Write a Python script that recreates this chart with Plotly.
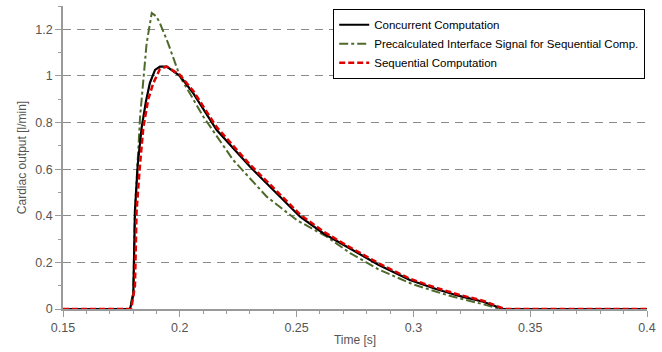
import plotly.graph_objects as go

# Concurrent computation (black solid)
conc_t = [0.15, 0.1787, 0.1801, 0.1808, 0.1820, 0.1837, 0.1855, 0.1872, 0.1894, 0.1915, 0.1944,
          0.2000, 0.2058, 0.2158, 0.2300, 0.2443, 0.2515, 0.2614, 0.2714, 0.2850, 0.2985,
          0.3100, 0.3200, 0.3299, 0.3384, 0.4]
conc_y = [0.0, 0.0, 0.06, 0.42, 0.62, 0.78, 0.89, 0.97, 1.026, 1.04, 1.04,
          1.0, 0.925, 0.768, 0.611, 0.468, 0.396, 0.325, 0.267, 0.19, 0.124,
          0.085, 0.055, 0.031, 0.0, 0.0]

# Precalculated interface signal (green dash-dot)
pre_t = [0.15, 0.1787, 0.1801, 0.1808, 0.1830, 0.1858, 0.1880, 0.1900, 0.1915, 0.1950,
         0.2001, 0.2101, 0.2228, 0.2372, 0.2500, 0.2629, 0.2729, 0.2850, 0.3000,
         0.3150, 0.3300, 0.3375, 0.4]
pre_y = [0.0, 0.0, 0.08, 0.42, 0.825, 1.14, 1.27, 1.255, 1.226, 1.14,
         0.997, 0.825, 0.64, 0.482, 0.382, 0.31, 0.24, 0.17, 0.105,
         0.058, 0.02, 0.0, 0.0]

# Sequential computation (red dashed)
seq_t = [0.15, 0.1792, 0.1808, 0.1815, 0.1828, 0.1844, 0.1865, 0.1887, 0.1915, 0.1944,
         0.2000, 0.2058, 0.2158, 0.2300, 0.2443, 0.2515, 0.2614, 0.2714, 0.2850, 0.2985,
         0.3100, 0.3200, 0.3300, 0.3390, 0.4]
seq_y = [0.0, 0.0, 0.10, 0.42, 0.60, 0.78, 0.90, 0.97, 1.03, 1.04,
         1.005, 0.935, 0.78, 0.62, 0.478, 0.405, 0.333, 0.273, 0.197, 0.13,
         0.09, 0.06, 0.035, 0.0, 0.0]

y_ticks = [0, 0.2, 0.4, 0.6, 0.8, 1.0, 1.2]
y_labels = ["0", "0.2", "0.4", "0.6", "0.8", "1", "1.2"]
x_ticks = [0.15, 0.2, 0.25, 0.3, 0.35, 0.4]
x_labels = ["0.15", "0.2", "0.25", "0.3", "0.35", "0.4"]

fig = go.Figure()
fig.add_trace(go.Scatter(x=pre_t, y=pre_y, mode="lines", name="Precalculated Interface Signal for Sequential Comp.",
                         line=dict(color="#4f6a2b", width=2, dash="dashdot"), legendrank=2))
fig.add_trace(go.Scatter(x=conc_t, y=conc_y, mode="lines", name="Concurrent Computation",
                         line=dict(color="black", width=2.2), legendrank=1))
fig.add_trace(go.Scatter(x=seq_t, y=seq_y, mode="lines", name="Sequential Computation",
                         line=dict(color="#e00000", width=2.5, dash="6px,3px"), legendrank=3))

axis_col = "#9a9a9a"
fig.update_layout(
    width=662, height=352,
    margin=dict(l=63, r=15, t=6, b=43),
    paper_bgcolor="white", plot_bgcolor="white",
    font=dict(family="Liberation Sans, Arial, sans-serif", size=12, color="#555555"),
    showlegend=True,
    legend=dict(x=0.9966, y=0.99, xanchor="right", yanchor="top",
                bgcolor="white", bordercolor="black", borderwidth=1.2,
                font=dict(size=11.5, color="black"), itemwidth=30,
                tracegroupgap=0),
    xaxis=dict(range=[0.15, 0.4], tickvals=x_ticks, ticktext=x_labels,
               showline=True, linecolor=axis_col, linewidth=1.5,
               ticks="outside", ticklen=6, tickcolor=axis_col, tickwidth=1,
               showgrid=False, zeroline=False,
               minor=dict(dtick=0.01, ticks="outside", ticklen=3, tickcolor=axis_col, showgrid=False),
               tickfont=dict(size=12.5, color="#555555"),
               title=dict(text="Time [s]", font=dict(size=12, color="#555555"), standoff=2)),
    yaxis=dict(range=[0, 1.3], tickvals=y_ticks, ticktext=y_labels,
               showline=True, linecolor=axis_col, linewidth=1.5,
               ticks="outside", ticklen=6, tickcolor=axis_col, tickwidth=1,
               showgrid=True, gridcolor="#8a8a8a", griddash="8px,6px", gridwidth=1,
               zeroline=False,
               minor=dict(dtick=0.1, ticks="outside", ticklen=3, tickcolor=axis_col, showgrid=False),
               tickfont=dict(size=12.5, color="#555555"),
               title=dict(text="Cardiac output [l/min]", font=dict(size=12, color="#555555"), standoff=6)),
)

fig.write_html("out.html", config={"displayModeBar": False},
               post_script="document.body.style.margin='0';")
